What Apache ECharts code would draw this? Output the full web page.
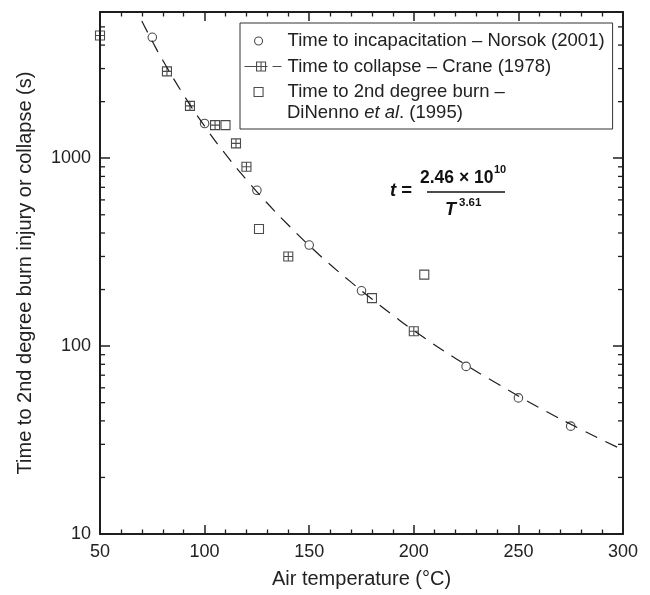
<!DOCTYPE html>
<html><head><meta charset="utf-8">
<script src="https://cdn.jsdelivr.net/npm/echarts@6/dist/echarts.min.js"></script>
<style>html,body{margin:0;padding:0;background:#fff}#c{width:650px;height:595px}</style>
</head><body><div id="c"></div>
<script>
// ---- data ----
const xRange = [50, 300];
const yRange = [10, 6000];
const yLabelValues = [10, 100, 1000];
const yMinorTicks = [20,30,40,50,60,70,80,90,200,300,400,500,600,700,800,900,2000,3000,4000,5000];

const norsokName = 'Time to incapacitation \u2013 Norsok (2001)';
const norsokT = [75, 100, 125, 150, 175, 225, 250, 275];
const norsokV = [4400, 1530, 675, 345, 197, 78, 53, 37.5];

const craneName = 'Time to collapse \u2013 Crane (1978)';
const craneT = [50, 82, 93, 105, 115, 120, 140, 200];
const craneV = [4500, 2900, 1900, 1500, 1200, 900, 300, 120];

const dinennoName = 'Time to 2nd degree burn \u2013';
const dinennoT = [110, 126, 180, 205];
const dinennoV = [1500, 420, 180, 240];

// dashed fit curve t = 2.46e10 / T^3.61
const curveT = [70, 75, 80, 90, 100, 110, 120, 130, 140, 150, 160, 170, 180, 190, 200, 220, 240, 260, 280, 300];
const curveV = [5380, 4190, 3320, 2170, 1480, 1050, 768, 576, 441, 343, 272, 219, 178, 146, 121, 86, 63, 47, 36, 28];

// ---- chart ----
const FONT = "'Liberation Sans', Arial, Helvetica, sans-serif";
const INK = '#1e1e1e';
const zip = (a, b) => a.map((v, i) => [v, b[i]]);

const craneSymbol = 'path://M0,0H10V10H0ZM5,0V10M0,5H10';
const iconCircle = 'path://M0,0M38,12M10,6A4,4,0,1,0,18,6A4,4,0,1,0,10,6Z';
const iconCrane = 'path://M0,0M38,12M0,6H12M12,1.5H21V10.5H12ZM16.5,1.5V10.5M12,6H21M21,6H23M28,6H37';
const iconSquare = 'path://M0,0M38,12M9.5,1.5H18.5V10.5H9.5Z';

const hollow = { color: 'transparent', borderColor: INK, borderWidth: 1.1 };

const chart = echarts.init(document.getElementById('c'), null, { renderer: 'canvas' });
const axisLineStyle = { lineStyle: { color: INK, width: 2 } };

chart.setOption({
  animation: false,
  backgroundColor: '#fff',
  grid: { left: 100, right: 27, top: 12, bottom: 61, containLabel: false },
  xAxis: [{
    type: 'value', min: xRange[0], max: xRange[1], interval: 50,
    position: 'bottom',
    axisLine: axisLineStyle,
    axisTick: { inside: true, length: 9, lineStyle: { color: INK, width: 1.5 } },
    minorTick: { show: true, splitNumber: 5, length: 4.5, lineStyle: { color: INK, width: 1.3 } },
    splitLine: { show: false },
    axisLabel: { color: '#222', fontSize: 18, fontFamily: FONT, margin: 9 },
    name: 'Air temperature (\u00B0C)', nameLocation: 'middle', nameGap: 35,
    nameTextStyle: { color: '#222', fontSize: 20, fontFamily: FONT }
  }, {
    type: 'value', min: xRange[0], max: xRange[1], interval: 50,
    position: 'top',
    axisLine: axisLineStyle,
    axisTick: { inside: true, length: 9, lineStyle: { color: INK, width: 1.5 } },
    minorTick: { show: true, splitNumber: 5, length: 4.5, lineStyle: { color: INK, width: 1.3 } },
    splitLine: { show: false },
    axisLabel: { show: false }
  }],
  yAxis: [{
    type: 'log', logBase: 10, min: yRange[0], max: yRange[1],
    position: 'left',
    axisLine: axisLineStyle,
    axisTick: { inside: true, length: 10, lineStyle: { color: INK, width: 1.5 } },
    splitLine: { show: false },
    axisLabel: { color: '#222', fontSize: 18, fontFamily: FONT, margin: 9,
      formatter: v => (yLabelValues.indexOf(Math.round(v)) >= 0 ? String(Math.round(v)) : '') },
    name: 'Time to 2nd degree burn injury or collapse (s)', nameLocation: 'middle', nameGap: 65,
    nameTextStyle: { color: '#222', fontSize: 20, fontFamily: FONT }
  }, {
    type: 'log', logBase: 10, min: yRange[0], max: yRange[1],
    position: 'right',
    axisLine: axisLineStyle,
    axisTick: { inside: true, length: 10, lineStyle: { color: INK, width: 1.5 } },
    splitLine: { show: false },
    axisLabel: { show: false }
  }],
  legend: {
    left: 240, top: 23, orient: 'vertical',
    padding: [7, 8, 26, 4],
    itemWidth: 38, itemHeight: 12, itemGap: 3.5,
    borderColor: '#333', borderWidth: 1, backgroundColor: '#fff',
    selectedMode: false,
    itemStyle: { color: 'transparent', borderColor: INK, borderWidth: 1.1 },
    textStyle: { color: '#222', fontSize: 18.5, fontFamily: FONT, lineHeight: 22 },
    data: [
      { name: norsokName, icon: iconCircle },
      { name: craneName, icon: iconCrane },
      { name: dinennoName, icon: iconSquare }
    ]
  },
  graphic: [
    { type: 'text', left: 287, top: 103, z: 100,
      style: { text: 'DiNenno {i|et al}. (1995)', fill: '#222', font: '18.5px ' + FONT,
        rich: { i: { fontStyle: 'italic', fontSize: 18.5, fontFamily: FONT, fill: '#222' } } } },
    // formula annotation
    { type: 'text', left: 390, top: 181, z: 100,
      style: { text: '{i|t} =', fill: '#111', font: 'bold 18.5px ' + FONT,
        rich: { i: { fontStyle: 'italic', fontWeight: 'bold', fontSize: 18.5, fontFamily: FONT } } } },
    { type: 'text', left: 420, top: 169, z: 100,
      style: { text: '2.46 \u00D7 10', fill: '#111', font: 'bold 17.5px ' + FONT } },
    { type: 'text', left: 494, top: 164, z: 100,
      style: { text: '10', fill: '#111', font: 'bold 11px ' + FONT } },
    { type: 'line', z: 100, shape: { x1: 427, y1: 192, x2: 505, y2: 192 },
      style: { stroke: '#111', lineWidth: 1.6 } },
    { type: 'text', left: 445, top: 201, z: 100,
      style: { text: 'T', fill: '#111', font: 'italic bold 18px ' + FONT } },
    { type: 'text', left: 459, top: 197, z: 100,
      style: { text: '3.61', fill: '#111', font: 'bold 11.5px ' + FONT } }
  ],
  series: [
    {
      type: 'line', name: 'fit', data: zip(curveT, curveV), smooth: true,
      showSymbol: false, symbol: 'none', silent: true,
      lineStyle: { color: INK, width: 1.2, type: [13, 9] }, z: 2
    },
    {
      type: 'scatter', name: norsokName, data: zip(norsokT, norsokV),
      symbol: 'circle', symbolSize: 8.5, itemStyle: hollow, z: 3
    },
    {
      type: 'scatter', name: craneName, data: zip(craneT, craneV),
      symbol: craneSymbol, symbolSize: 9, symbolKeepAspect: true, itemStyle: hollow, z: 3
    },
    {
      type: 'scatter', name: dinennoName, data: zip(dinennoT, dinennoV),
      symbol: 'rect', symbolSize: 9, itemStyle: hollow, z: 3
    },
    {
      type: 'custom', name: 'minorY', silent: true, clip: false, z: 5,
      data: yMinorTicks.map(v => [xRange[0], v]),
      renderItem: function (params, api) {
        const y = api.coord([xRange[0], api.value(1)])[1];
        const xl = params.coordSys.x, xr = params.coordSys.x + params.coordSys.width;
        const st = { stroke: INK, lineWidth: 1.3 };
        return { type: 'group', children: [
          { type: 'line', shape: { x1: xl, y1: y, x2: xl + 5, y2: y }, style: st },
          { type: 'line', shape: { x1: xr - 5, y1: y, x2: xr, y2: y }, style: st }
        ] };
      }
    }
  ]
});
</script>
</body></html>
